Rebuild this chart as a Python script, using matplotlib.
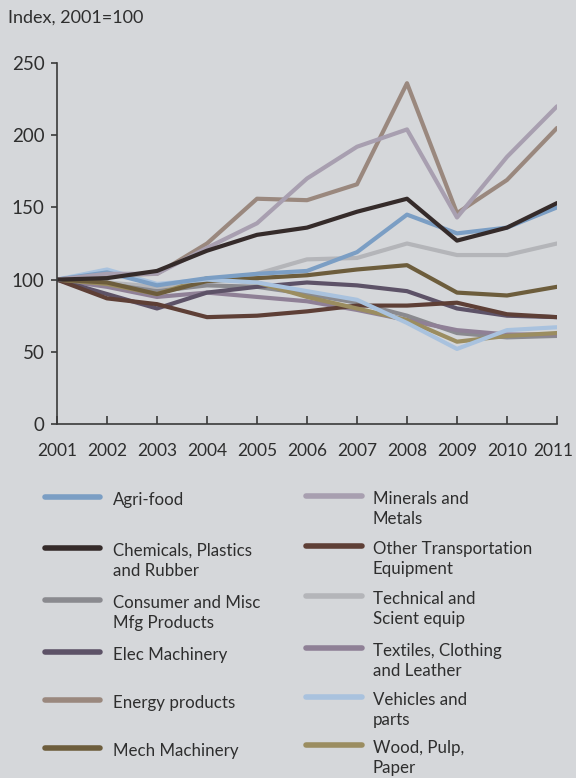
import matplotlib
matplotlib.use("Agg")
import matplotlib.pyplot as plt
import matplotlib.transforms as mtransforms
from matplotlib.lines import Line2D

plt.rcParams['font.family'] = ['Lato', 'DejaVu Sans']

years = [2001, 2002, 2003, 2004, 2005, 2006, 2007, 2008, 2009, 2010, 2011]
year_labels = [str(y) for y in years]
y_ticks = [0, 50, 100, 150, 200, 250]

agri_food = [100, 105, 96, 101, 104, 106, 119, 145, 132, 136, 150]
minerals = [100, 104, 104, 122, 139, 170, 192, 204, 143, 185, 220]
chemicals = [100, 101, 106, 120, 131, 136, 147, 156, 127, 136, 153]
other_transport = [100, 87, 83, 74, 75, 78, 82, 82, 84, 76, 74]
consumer = [100, 97, 92, 96, 95, 90, 84, 75, 63, 60, 61]
technical = [100, 98, 95, 98, 104, 114, 115, 125, 117, 117, 125]
elec = [100, 90, 80, 91, 95, 98, 96, 92, 80, 75, 74]
textiles = [100, 95, 88, 91, 88, 85, 79, 72, 65, 62, 62]
energy = [100, 103, 104, 125, 156, 155, 166, 236, 146, 169, 205]
vehicles = [100, 107, 97, 100, 98, 92, 86, 70, 52, 65, 67]
mech = [100, 98, 90, 99, 101, 103, 107, 110, 91, 89, 95]
wood = [100, 97, 90, 101, 98, 88, 80, 72, 57, 61, 63]

series_names = [
    "Agri-food", "Minerals and\nMetals",
    "Chemicals, Plastics\nand Rubber", "Other Transportation\nEquipment",
    "Consumer and Misc\nMfg Products", "Technical and\nScient equip",
    "Elec Machinery", "Textiles, Clothing\nand Leather",
    "Energy products", "Vehicles and\nparts",
    "Mech Machinery", "Wood, Pulp,\nPaper",
]
series_values = [
    agri_food, minerals, chemicals, other_transport, consumer, technical,
    elec, textiles, energy, vehicles, mech, wood,
]
series_colors = [
    "#7b9ec4", "#a89fb0", "#352b2a", "#5e3f36", "#8a8a8f", "#b4b5b9",
    "#5d5267", "#8f8096", "#9a887e", "#a9c2de", "#6d5d3c", "#9b8d60",
]
# drawing order (back to front)
draw_order = [5, 4, 7, 6, 3, 11, 10, 9, 0, 8, 1, 2]

BG = "#d5d7da"
TXT = "#2e2e2e"

W, H = 576, 778
fig = plt.figure(figsize=(W / 100, H / 100), dpi=100, facecolor=BG)
ax = fig.add_axes([57 / W, 1 - 424 / H, (557 - 57) / W, (424 - 63) / H])
ax.set_facecolor(BG)

for n, i in enumerate(draw_order):
    ax.plot(years, series_values[i], color=series_colors[i], lw=3.0,
            solid_capstyle='round', solid_joinstyle='round', zorder=2 + n * 0.01)

ax.set_xlim(2001, 2011)
ax.set_ylim(0, 250)
ax.set_xticks(years)
ax.set_xticklabels(year_labels)
ax.set_yticks(y_ticks)
for s in ['top', 'right']:
    ax.spines[s].set_visible(False)
for s in ['left', 'bottom']:
    ax.spines[s].set_color('#3a3a3a')
    ax.spines[s].set_linewidth(1.2)
ax.tick_params(axis='x', direction='in', length=6, width=1.2, color='#3a3a3a',
               labelsize=12.5, labelcolor=TXT, pad=14)
ax.tick_params(axis='y', direction='out', length=4, width=1.2, color='#3a3a3a',
               labelsize=13.5, labelcolor=TXT, pad=5)

# nudge the last year label so it stays inside the figure
last = ax.get_xticklabels()[-1]
last.set_transform(last.get_transform() +
                   mtransforms.ScaledTranslation(-4 / 100, 0, fig.dpi_scale_trans))

fig.text(8 / W, 1 - 18 / H, "Index, 2001=100", fontsize=13, color=TXT,
         ha='left', va='center')

# legend (two columns)
left_rows = [497, 548, 600, 652, 700, 748]
right_rows = [496, 546, 596, 648, 697, 745]
for k, (name, color) in enumerate(zip(series_names, series_colors)):
    col = k % 2
    row = k // 2
    if col == 0:
        x0, x1, xt, yy = 45, 100, 113, left_rows[row]
    else:
        x0, x1, xt, yy = 306, 362, 373, right_rows[row]
    fig.add_artist(Line2D([x0 / W, x1 / W], [1 - yy / H, 1 - yy / H],
                          color=color, lw=4.0, solid_capstyle='round'))
    fig.text(xt / W, 1 - (yy - 5) / H, name, fontsize=12.2, color=TXT,
             ha='left', va='top', linespacing=1.32)

fig.savefig("out.png", dpi=100, facecolor=BG)
